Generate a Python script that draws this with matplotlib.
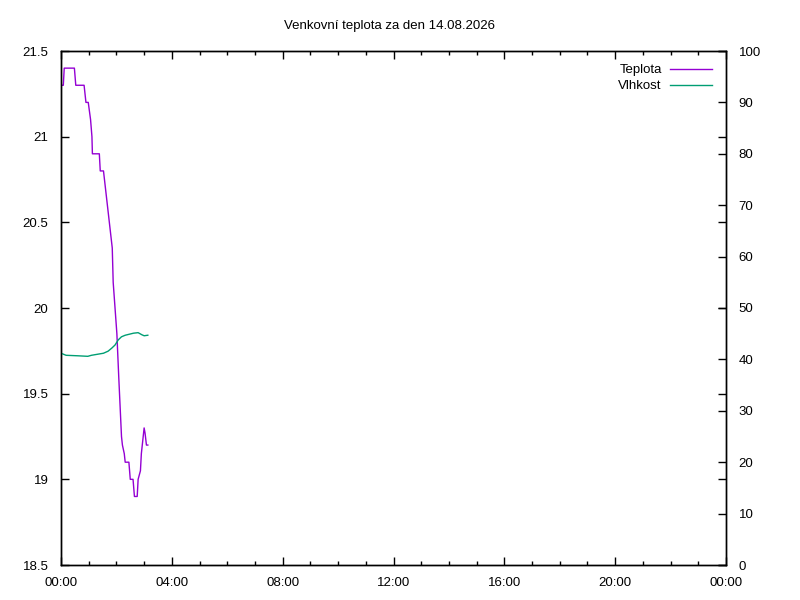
import matplotlib
matplotlib.use("Agg")
import matplotlib.pyplot as plt
from matplotlib.ticker import MultipleLocator

plt.rcParams['font.family'] = ['Liberation Sans', 'DejaVu Sans']
plt.rcParams['font.size'] = 9.5

title = "Venkovní teplota za den 14.08.2026"

# minutes since midnight, temperature in deg C
temp_min = [0, 5, 7, 29, 32, 50, 54, 59, 64, 67, 68, 83, 85, 92, 111, 113,
            121, 125, 131, 133, 137, 139, 147, 150, 156, 159, 165, 167, 172,
            174, 178, 180, 182, 185, 188]
temp_val = [21.3, 21.3, 21.4, 21.4, 21.3, 21.3, 21.2, 21.2, 21.1, 21.0, 20.9,
            20.9, 20.8, 20.8, 20.35, 20.15, 19.85, 19.6, 19.25, 19.2, 19.15,
            19.1, 19.1, 19.0, 19.0, 18.9, 18.9, 19.0, 19.05, 19.15, 19.25,
            19.3, 19.27, 19.2, 19.2]

# minutes since midnight, relative humidity in %
hum_min = [0, 11, 37, 58, 66, 92, 102, 110, 117, 124, 131, 139, 157, 167,
           175, 180, 188]
hum_val = [41.2, 40.8, 40.7, 40.6, 40.8, 41.2, 41.6, 42.2, 42.8, 43.8, 44.4,
           44.7, 45.1, 45.2, 44.8, 44.6, 44.7]

hour_ticks = [0, 240, 480, 720, 960, 1200, 1440]
hour_labels = ["00:00", "04:00", "08:00", "12:00", "16:00", "20:00", "00:00"]

fig = plt.figure(figsize=(8, 6), dpi=100)
ax = fig.add_axes([61 / 800, 1 - 565 / 600, 665 / 800, 514 / 600])
ax2 = ax.twinx()

l1, = ax.plot(temp_min, temp_val, color='#9400D3', lw=1, label='Teplota')
l2, = ax2.plot(hum_min, hum_val, color='#009E73', lw=1, label='Vlhkost')

ax.set_xlim(0, 1440)
ax.set_ylim(18.5, 21.5)
ax2.set_ylim(0, 100)

ax.set_xticks(hour_ticks)
ax.set_xticklabels(hour_labels)
ax.xaxis.set_minor_locator(MultipleLocator(60))
ax.set_yticks([18.5, 19, 19.5, 20, 20.5, 21, 21.5])
ax.set_yticklabels(["18.5", "19", "19.5", "20", "20.5", "21", "21.5"])
ax2.set_yticks(range(0, 101, 10))

ax.tick_params(which='major', direction='in', length=6, width=1, top=True,
               right=True, labelright=False, pad=9, colors='black')
ax.tick_params(which='minor', direction='in', length=3, width=1, top=True)
ax.tick_params(axis='y', which='minor', left=False, right=False)
ax2.tick_params(direction='in', length=6, width=1, pad=9)

for a in (ax, ax2):
    for s in a.spines.values():
        s.set_linewidth(1)

fig.text(390 / 800, 1 - 26 / 600, title, ha='center', va='center')

ax.legend([l1, l2], ['Teplota', 'Vlhkost'], loc='upper right',
          bbox_to_anchor=(712 / 800, 1 - 64 / 600),
          bbox_transform=fig.transFigure,
          frameon=False, markerfirst=False, handlelength=3.2,
          borderaxespad=0, borderpad=0, labelspacing=0.28,
          handletextpad=0.6)

fig.savefig("out.png", dpi=100)
